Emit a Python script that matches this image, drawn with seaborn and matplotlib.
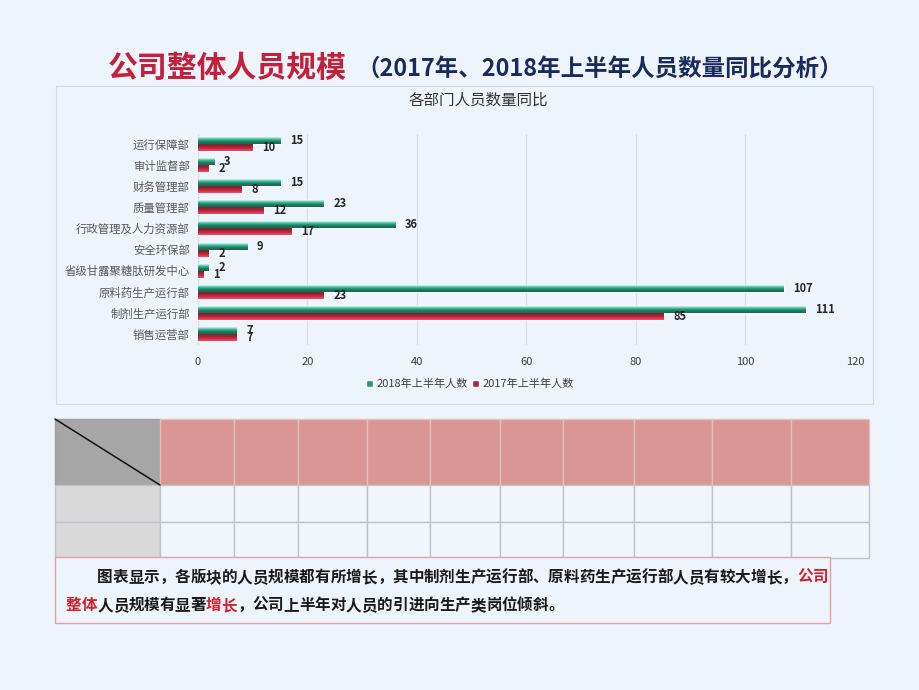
import matplotlib
matplotlib.use("Agg")
import matplotlib.pyplot as plt
import seaborn as sns
import pandas as pd
import numpy as np
from matplotlib.patches import Rectangle
from matplotlib.colors import to_rgb

# ---------------- data ----------------
departments = ["运行保障部", "审计监督部", "财务管理部", "质量管理部", "行政管理及人力资源部",
               "安全环保部", "省级甘露聚糖肽研发中心", "原料药生产运行部", "制剂生产运行部", "销售运营部"]
staff_2018 = [15, 3, 15, 23, 36, 9, 2, 107, 111, 7]
staff_2017 = [10, 2, 8, 12, 17, 2, 1, 23, 85, 7]
series_names = ["2018年上半年人数", "2017年上半年人数"]
x_ticks = [0, 20, 40, 60, 80, 100, 120]
n_table_cols = 10

title_red = "公司整体人员规模"
title_rest = "（2017年、2018年上半年人员数量同比分析）"
chart_title = "各部门人员数量同比"
note_line1 = [("图表显示，各版块的人员规模都有所增长，其中制剂生产运行部、原料药生产运行部人员有较大增长，", "k"),
              ("公司", "r")]
note_line2 = [("整体", "r"), ("人员规模有显著", "k"), ("增长", "r"),
              ("，公司上半年对人员的引进向生产类岗位倾斜。", "k")]

df = pd.DataFrame({
    "部门": departments * 2,
    "人数": staff_2018 + staff_2017,
    "系列": [series_names[0]] * len(departments) + [series_names[1]] * len(departments),
})

# ---------------- style ----------------
sns.set_theme(style="white")
plt.rcParams['font.family'] = ['Noto Sans CJK SC', 'DejaVu Sans']

BG = '#EEF4FB'
GREEN = '#23957A'
RED = '#B32238'
GRAD = {GREEN: ['#C8FAEE', '#3FB394', '#1B7A5E', '#166B52'],
        RED: ['#6E2A33', '#9C2236', '#D42A42', '#F0506A']}
W, H = 920, 690
fig = plt.figure(figsize=(9.2, 6.9), dpi=100, facecolor=BG)

bg = fig.add_axes([0, 0, 1, 1], zorder=0)
bg.set_xlim(0, W)
bg.set_ylim(H, 0)
bg.axis('off')

# ---------------- titles ----------------
bg.text(108, 68, title_red, fontsize=21.5, fontweight='bold', color='#C3203C',
        ha='left', va='center')
bg.text(356, 69, title_rest, fontsize=16.9, fontweight='bold', color='#1B2A5C',
        ha='left', va='center')

# chart frame
bg.add_patch(Rectangle((56, 86), 817, 318, fill=False, ec='#D6DCE4', lw=0.8))
bg.text(478, 100, chart_title, fontsize=11.2, color='#333333', ha='center', va='center')

# ---------------- bar chart ----------------
ax = fig.add_axes([198 / W, 1 - 344.5 / H, 657 / W, 211 / H], zorder=1)
ax.set_facecolor('none')
sns.barplot(data=df, y="部门", x="人数", hue="系列", hue_order=series_names, order=departments,
            palette=[GREEN, RED], width=0.66, orient='h', ax=ax, saturation=1)
ax.set_xlim(0, 120)
ylim = ax.get_ylim()

# gradient fill inside each bar drawn by seaborn
for cont, base in zip(ax.containers, [GREEN, RED]):
    stops = np.array([to_rgb(c) for c in GRAD[base]])
    t = np.linspace(0, 1, 32)
    grad = np.stack([np.interp(t, np.linspace(0, 1, len(stops)), stops[:, k]) for k in range(3)], axis=-1)
    grad = grad[:, None, :]
    for p in cont.patches:
        x0, y0 = p.get_x(), p.get_y()
        w, h = p.get_width(), p.get_height()
        im = ax.imshow(grad, extent=(x0, x0 + w, y0 + h, y0), origin='upper',
                       aspect='auto', interpolation='bilinear', zorder=p.get_zorder() + 0.1)
        im.set_clip_path(p)
ax.set_xlim(0, 120)
ax.set_ylim(ylim)

ax.set_xticks(x_ticks)
ax.grid(axis='x', color='#D9DDE3', lw=0.8)
ax.grid(axis='y', visible=False)
ax.set_axisbelow(True)
for s in ax.spines.values():
    s.set_visible(False)
ax.set_xlabel('')
ax.set_ylabel('')
ax.tick_params(axis='y', length=0, pad=6, labelsize=8.2, labelcolor='#595959')
ax.tick_params(axis='x', length=0, pad=9, labelsize=8, labelcolor='#404040')
for c in ax.containers:
    ax.bar_label(c, padding=7, fontsize=8, fontweight='bold', color='#262626', zorder=5)

handles, labels = ax.get_legend_handles_labels()
if ax.legend_ is not None:
    ax.legend_.remove()
fig.legend(handles, labels, loc='center', bbox_to_anchor=(470 / W, 1 - 384 / H), ncol=2,
           frameon=False, fontsize=8, handlelength=0.6, handleheight=0.6,
           handletextpad=0.3, columnspacing=0.4, labelcolor='#404040')

# ---------------- decorative table ----------------
xs = [55, 160, 234, 298, 367, 430, 500, 563, 634, 712, 791, 869]
ys = [419, 485, 522, 558]
for r in range(3):
    for c in range(n_table_cols + 1):
        x0, x1 = xs[c], xs[c + 1]
        y0, y1 = ys[r], ys[r + 1]
        if r == 0:
            fc = '#A6A6A6' if c == 0 else '#D99694'
            ec = '#9E9E9E' if c == 0 else '#E8BDBC'
        else:
            fc = '#D9D9D9' if c == 0 else '#F1F6FC'
            ec = '#BFC4CB'
        bg.add_patch(Rectangle((x0, y0), x1 - x0, y1 - y0, fc=fc, ec=ec, lw=1.0))
bg.plot([55, 160], [419, 485], color='#111111', lw=1.1)

# ---------------- note box ----------------
bg.add_patch(Rectangle((55, 557), 775, 66, fc=BG, ec='#E2A2A2', lw=1.0, zorder=3))
NOTE_FS = 11.2
em = NOTE_FS * 100 / 72
colors = {"k": '#1A1A1A', "r": '#D0202A'}


def draw_line(segments, x_start, y):
    i = 0
    for txt, col in segments:
        for ch in txt:
            bg.text(x_start + (i + 0.5) * em, y, ch, fontsize=NOTE_FS, fontweight='bold',
                    color=colors[col], ha='center', va='center', zorder=4)
            i += 1


draw_line(note_line1, 97, 577)
draw_line(note_line2, 66, 605)

fig.savefig("out.png", dpi=100, facecolor=BG)
